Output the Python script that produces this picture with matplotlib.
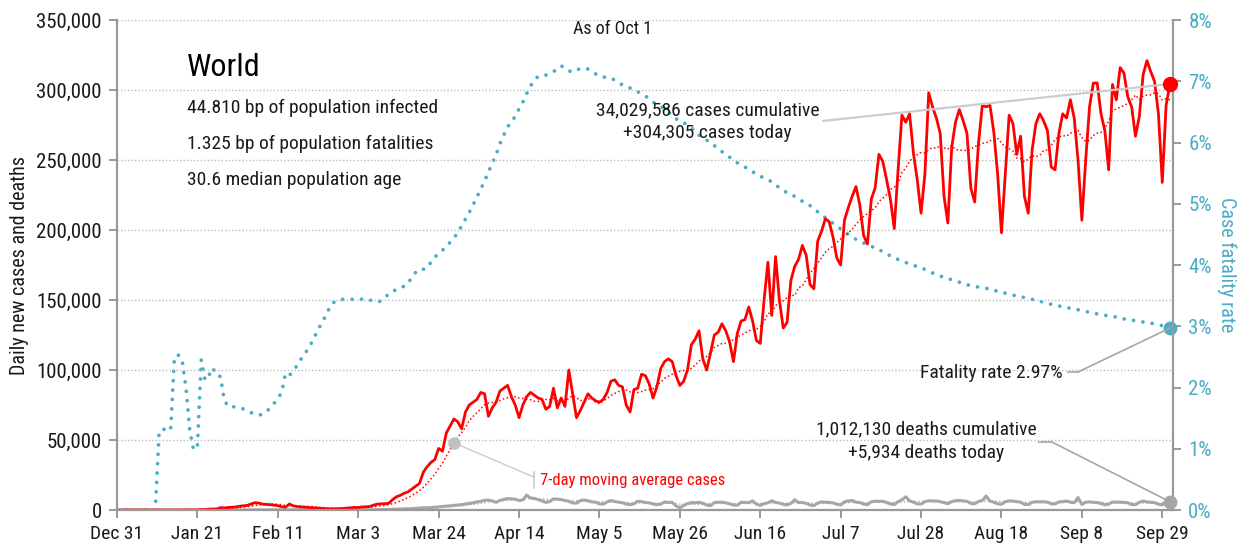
import numpy as np
import pandas as pd
import matplotlib
matplotlib.use("Agg")
import matplotlib.pyplot as plt
from matplotlib import font_manager

# pick a condensed family that is installed
installed = {f.name for f in font_manager.fontManager.ttflist}
for fam in ["Roboto Condensed", "Archivo Narrow", "PT Sans Narrow", "Barlow Semi Condensed",
            "Liberation Sans Narrow"]:
    if fam in installed:
        break
else:
    fam = "DejaVu Sans"
plt.rcParams['font.family'] = [fam, 'DejaVu Sans']

# days since Dec 31 (0 .. 275 = Oct 1)
tick_days = [0, 21, 42, 63, 84, 105, 126, 147, 168, 189, 210, 231, 252, 273]
tick_labels = ["Dec 31", "Jan 21", "Feb 11", "Mar 3", "Mar 24", "Apr 14", "May 5",
               "May 26", "Jun 16", "Jul 7", "Jul 28", "Aug 18", "Sep 8", "Sep 29"]

# daily new cases, thousands
cases_k = [
    0.03, 0, 0, 0.02, 0, 0.02, 0, 0, 0, 0, 0, 0, 0, 0.02, 0.02, 0.02, 0.02, 0.02, 0.08, 0.15, 0.1,
    0.15, 0.3, 0.3, 0.6, 0.7, 0.8, 1.7, 1.5, 1.8, 2.0, 2.2, 2.7, 3.0, 3.3, 4.3, 5.2, 5.0, 4.2, 4.0, 3.8,
    3.5, 3.1, 2.4, 2.0, 4.3, 3.0, 2.5, 2.2, 2.0, 1.8, 1.6, 1.5, 1.2, 1.1, 0.9, 0.8, 0.9, 1.0, 1.1, 1.4,
    1.6, 1.9, 1.8, 2.2, 2.3, 2.5, 3.5, 4.2, 4.4, 4.5, 4.9, 7.5, 9.5, 10.5, 12, 13, 15, 17, 19, 27,
    31, 34, 36, 44, 42, 55, 60, 65, 63, 58, 70, 75, 77, 79, 84, 83, 67, 73, 77, 85,
    87, 89, 81, 75, 66, 75, 81, 84, 82, 80, 79, 72, 74, 87, 73, 80, 74, 100, 83, 66,
    71, 77, 83, 80, 78, 77, 79, 84, 92, 93, 89, 88, 75, 70, 86, 87, 97, 96, 90, 80,
    88, 101, 106, 108, 106, 96, 89, 92, 100, 118, 122, 128, 108, 100, 112, 125, 127, 133, 128, 120,
    106, 126, 135, 136, 145, 135, 121, 119, 150, 177, 139, 181, 150, 130, 134, 164, 174, 179, 189, 182,
    161, 158, 192, 199, 208, 206, 195, 180, 175, 207, 216, 224, 231, 218, 196, 190, 222, 230, 254, 249,
    236, 222, 201, 243, 282, 277, 283, 255, 236, 212, 240, 298, 288, 280, 269, 224, 205, 259, 277, 286,
    278, 269, 230, 220, 262, 289, 288, 289, 270, 240, 198, 240, 282, 276, 254, 267, 224, 212, 257, 276,
    283, 278, 271, 245, 243, 269, 283, 280, 293, 280, 250, 207, 250, 288, 305, 305, 283, 271, 243, 304,
    293, 316, 312, 295, 288, 267, 281, 311, 321, 313, 306, 283, 234, 289, 304.305,
]

# daily new deaths, thousands
deaths_k = [
    0, 0, 0, 0, 0, 0, 0, 0, 0, 0, 0, 0, 0, 0, 0, 0, 0, 0, 0, 0, 0,
    0.01, 0.01, 0.02, 0.02, 0.02, 0.03, 0.03, 0.04, 0.04, 0.05,
    0.05, 0.06, 0.06, 0.07, 0.07, 0.07, 0.08, 0.09, 0.09, 0.1,
    0.1, 0.1, 0.11, 0.12, 0.14, 0.14, 0.14, 0.1, 0.1, 0.1,
    0.1, 0.1, 0.1, 0.1, 0.1, 0.1, 0.1, 0.06, 0.07, 0.06,
    0.08, 0.08, 0.09, 0.1, 0.1, 0.14, 0.2, 0.22, 0.32, 0.35,
    0.4, 0.45, 0.6, 0.7, 0.8, 0.9, 1.0, 1.2, 1.4, 1.7,
    1.6, 1.8, 2.0, 2.2, 2.5, 2.8, 3.0, 3.3, 3.6, 3.8,
    4.3, 4.8, 5.2, 5.8, 6.2, 7.0, 7.1, 6.5, 5.5, 6.8,
    7.6, 8.2, 8.0, 7.7, 6.8, 7.2, 10.7, 8.5, 8.3, 7.4,
    6.5, 5.5, 6.0, 8.0, 7.8, 7.5, 6.8, 6.2, 5.0, 4.9,
    6.7, 7.2, 6.6, 5.8, 5.6, 4.4, 4.2, 5.8, 6.8, 6.1,
    5.6, 5.2, 4.3, 3.8, 4.4, 6.3, 6.0, 5.4, 5.1, 4.3,
    3.8, 4.2, 5.8, 5.4, 5.5, 3.0, 1.6, 3.2, 4.6, 5.3,
    5.2, 5.5, 4.9, 3.5, 3.1, 5.3, 5.6, 5.6, 5.1, 4.4,
    3.6, 3.4, 5.5, 5.4, 5.3, 6.5, 4.2, 3.3, 4.5, 5.1,
    6.6, 5.4, 5.0, 4.1, 3.6, 4.8, 7.3, 5.3, 5.4, 4.7,
    3.6, 3.1, 4.9, 5.8, 5.6, 5.4, 5.1, 4.1, 3.6, 5.9,
    6.5, 6.9, 5.6, 5.4, 4.2, 3.8, 5.9, 6.3, 6.2, 6.3,
    5.4, 4.3, 3.8, 6.0, 7.3, 9.5, 6.6, 5.6, 4.4, 4.2,
    6.0, 6.6, 6.5, 6.5, 6.0, 5.2, 4.5, 6.0, 6.7, 6.8,
    6.5, 6.2, 4.7, 4.4, 6.2, 6.8, 10.0, 6.4, 5.6, 4.4,
    4.1, 5.9, 6.5, 6.4, 6.0, 5.6, 4.0, 3.9, 5.5, 5.9,
    5.9, 5.9, 5.7, 4.4, 4.3, 5.8, 6.0, 6.4, 5.6, 5.2,
    8.9, 4.0, 5.6, 5.8, 5.5, 5.3, 4.6, 3.7, 4.2, 5.8,
    5.6, 5.7, 5.4, 5.2, 3.9, 3.8, 5.5, 6.4, 5.8, 5.5,
    5.3, 4.1, 3.7, 5.9, 5.934,
]

# case fatality rate, percent
cfr_pct = [
    0, 0, 0, 0, 0, 0, 0, 0, 0, 0, 0, 1.28, 1.32, 1.31, 1.30, 2.5, 2.53, 2.45, 2.0, 1.3,
    0.98, 1.05, 2.45, 2.12, 2.2, 2.32, 2.2, 2.18, 1.8, 1.69,
    1.69, 1.68, 1.67, 1.65, 1.62, 1.59, 1.57, 1.55, 1.56, 1.6,
    1.67, 1.74, 1.82, 1.92, 2.23, 2.2, 2.26, 2.36, 2.46, 2.54,
    2.65, 2.75, 2.88, 3.0, 3.11, 3.24, 3.36, 3.41, 3.43, 3.44,
    3.44, 3.44, 3.44, 3.44, 3.44, 3.44, 3.43, 3.41, 3.39, 3.42,
    3.47, 3.53, 3.57, 3.6, 3.64, 3.65, 3.7, 3.8, 3.88, 3.93,
    3.93, 3.95, 4.05, 4.13, 4.19, 4.24, 4.31, 4.37, 4.44, 4.53,
    4.64, 4.75, 4.86, 4.98, 5.11, 5.24, 5.37, 5.52, 5.66, 5.8,
    5.98, 6.12, 6.25, 6.35, 6.42, 6.55, 6.66, 6.8, 6.92, 7.02,
    7.08, 7.09, 7.1, 7.13, 7.16, 7.19, 7.25, 7.22, 7.17, 7.15,
    7.18, 7.21, 7.21, 7.2, 7.16, 7.12, 7.08, 7.07, 7.06, 7.05,
    7.02, 6.98, 6.94, 6.91, 6.89, 6.87, 6.83, 6.79, 6.76, 6.71,
    6.66, 6.62, 6.59, 6.55, 6.5, 6.45, 6.39, 6.34, 6.32, 6.29,
    6.24, 6.19, 6.12, 6.07, 6.04, 5.99, 5.95, 5.9, 5.85, 5.81,
    5.76, 5.72, 5.67, 5.63, 5.6, 5.56, 5.52, 5.49, 5.45, 5.42,
    5.39, 5.36, 5.31, 5.26, 5.22, 5.18, 5.15, 5.12, 5.08, 5.04,
    5.0, 4.97, 4.91, 4.87, 4.83, 4.77, 4.73, 4.68, 4.63, 4.59,
    4.54, 4.5, 4.46, 4.42, 4.39, 4.36, 4.33, 4.3, 4.29, 4.25,
    4.22, 4.18, 4.15, 4.12, 4.09, 4.06, 4.04, 4.02, 4.0, 3.97,
    3.95, 3.93, 3.9, 3.87, 3.84, 3.82, 3.8, 3.78, 3.76, 3.74,
    3.72, 3.7, 3.68, 3.66, 3.65, 3.64, 3.63, 3.62, 3.6, 3.59,
    3.57, 3.56, 3.54, 3.52, 3.51, 3.49, 3.48, 3.47, 3.45, 3.44,
    3.42, 3.41, 3.39, 3.37, 3.36, 3.35, 3.33, 3.32, 3.31, 3.29,
    3.28, 3.27, 3.25, 3.24, 3.23, 3.22, 3.2, 3.19, 3.18, 3.17,
    3.16, 3.15, 3.13, 3.12, 3.11, 3.1, 3.09, 3.08, 3.07, 3.06,
    3.05, 3.04, 3.02, 3.01, 2.99, 2.97,
]

RED = "#ff0000"
TEAL = "#4bacc6"
GRAY = "#a6a6a6"
AXC = "#999999"
LINEC = "#cccccc"
TXT = "#1a1a1a"

days = np.arange(len(cases_k))
cases = pd.Series(cases_k) * 1000
deaths = pd.Series(deaths_k) * 1000
cfr = pd.Series(cfr_pct)
cases_avg = cases.rolling(7, min_periods=1).mean()
deaths_avg = deaths.rolling(7, min_periods=1).mean()

fig = plt.figure(figsize=(12.41, 5.48), dpi=100)
ax = fig.add_axes([0.0943, 0.0693, 0.8509, 0.8942])
ax2 = ax.twinx()
ax.set_zorder(ax2.get_zorder() + 1)
ax.patch.set_visible(False)

# fatality rate (right axis)
ax2.plot(days, cfr, color=TEAL, lw=2.7, linestyle=(0, (0.01, 2.5)),
         dash_capstyle="round")
ax2.plot(days[-1], cfr.iloc[-1], "o", color=TEAL, ms=9, clip_on=False)

# cases and deaths
ax.plot(days, deaths_avg, color=GRAY, lw=1.2, linestyle=(0, (0.01, 2.2)), dash_capstyle="round")
ax.plot(days, deaths, color=GRAY, lw=2.2)
ax.plot(days, cases_avg, color=RED, lw=1.3, linestyle=(0, (0.01, 2.2)), dash_capstyle="round")
ax.plot(days, cases, color=RED, lw=2.0)
ax.plot(days[-1], cases.iloc[-1], "o", color=RED, ms=10, clip_on=False, zorder=5)
ax.plot(days[-1], deaths.iloc[-1], "o", color=GRAY, ms=9, clip_on=False, zorder=5)

ax.set_xlim(0, 275.8)
ax.set_ylim(0, 350000)
ax2.set_ylim(0, 8)

ax.set_xticks(tick_days)
ax.set_xticklabels(tick_labels)
ax.set_yticks(np.arange(0, 350001, 50000))
ax.set_yticklabels([f"{v:,}" for v in range(0, 350001, 50000)])
ax2.set_yticks(range(0, 9))
ax2.set_yticklabels([f"{v}%" for v in range(0, 9)])

for a in (ax, ax2):
    for s in a.spines.values():
        s.set_color(AXC)
        s.set_linewidth(1.6)
    a.spines["top"].set_visible(False)
ax.spines["right"].set_visible(False)
ax2.spines["left"].set_visible(False)
ax2.spines["bottom"].set_visible(False)

ax.tick_params(axis="x", colors=AXC, labelcolor=TXT, labelsize=14,
               length=6, width=1.4, pad=5)
ax.tick_params(axis="y", colors=AXC, labelcolor=TXT, labelsize=15,
               length=6, width=1.4, pad=5)
ax2.tick_params(axis="y", colors=AXC, labelcolor=TEAL, labelsize=15,
                length=6, width=1.4, pad=5)

for v in range(50000, 350001, 50000):
    ax.axhline(v, color="#bbbbbb", lw=1, linestyle=(0, (1, 1.5)), zorder=0)

ax.set_ylabel("Daily new cases and deaths", fontsize=14.5, color=TXT, labelpad=5)
ax2.set_ylabel("Case fatality rate", fontsize=14.5, color=TEAL, rotation=270, labelpad=18)

# text block
ax.text(0.0663, 0.904, "World", transform=ax.transAxes, fontsize=23,
        va="center", ha="left", color="black")
stats = ["44.810 bp of population infected", "1.325 bp of population fatalities",
         "30.6 median population age"]
for txt, yy in zip(stats, [0.820, 0.747, 0.673]):
    ax.text(0.0663, yy, txt, transform=ax.transAxes, fontsize=14,
            va="center", ha="left", color=TXT)
ax.text(0.469, 0.982, "As of Oct 1", transform=ax.transAxes, fontsize=13,
        va="center", ha="center", color=TXT)

# cases annotation
ax.text(154.3, 285700, "34,029,586 cases cumulative", fontsize=14, ha="center", va="center",
        color=TXT)
ax.text(154.3, 269300, "+304,305 cases today", fontsize=14, ha="center", va="center",
        color=TXT)
ax.annotate("", xy=(days[-1], cases.iloc[-1]), xytext=(184.4, 277900),
            arrowprops=dict(arrowstyle="-", color=LINEC, lw=1.6, shrinkA=0, shrinkB=0))

# fatality rate annotation
ax.text(247.1, 97900, "Fatality rate 2.97%", fontsize=14, ha="right", va="center",
        color=TXT)
ax.plot([248.4, 251.0], [98600, 98600], color=GRAY, lw=1.2)
ax.annotate("", xy=(days[-1], cfr.iloc[-1]), xycoords=ax2.transData,
            xytext=(251.0, 98600), textcoords="data",
            arrowprops=dict(arrowstyle="-", color=GRAY, lw=1.2, shrinkA=0, shrinkB=0))

# deaths annotation
ax.text(211.3, 57900, "1,012,130 deaths cumulative", fontsize=14, ha="center", va="center",
        color=TXT)
ax.text(211.3, 40700, "+5,934 deaths today", fontsize=14, ha="center", va="center",
        color=TXT)
ax.plot([240.8, 244.0], [48800, 48800], color=GRAY, lw=1.2)
ax.annotate("", xy=(days[-1], deaths.iloc[-1]), xytext=(244.0, 48800),
            arrowprops=dict(arrowstyle="-", color=GRAY, lw=1.2, shrinkA=0, shrinkB=0))

# moving average label
ma_day = 88
ax.plot(ma_day, cases_avg.iloc[ma_day], "o", color="#c0c0c0", ms=8, zorder=6)
ax.annotate("", xy=(ma_day, cases_avg.iloc[ma_day]), xytext=(108.8, 23600),
            arrowprops=dict(arrowstyle="-", color=LINEC, lw=1, shrinkA=0, shrinkB=0))
ax.plot([108.8, 108.8], [15700, 27100], color=LINEC, lw=1.2)
ax.text(110.6, 21400, "7-day moving average cases", fontsize=12, ha="left", va="center",
        color=RED)

fig.savefig("out.png", dpi=100)
